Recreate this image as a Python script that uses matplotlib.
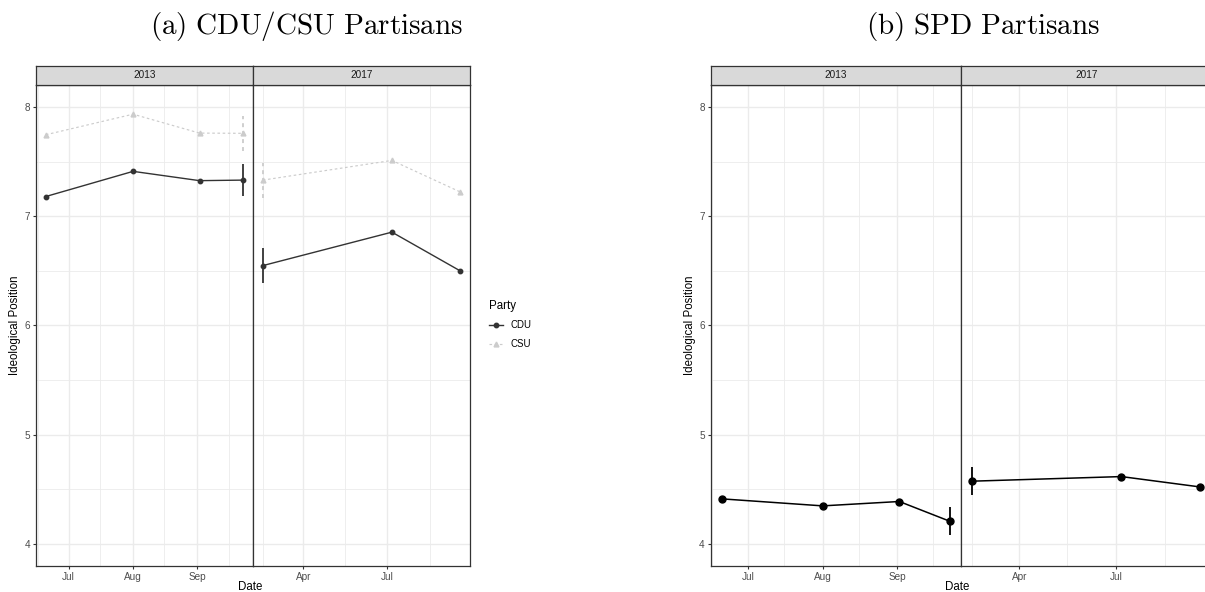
import matplotlib
matplotlib.use("Agg")
import matplotlib.pyplot as plt
import matplotlib.dates as mdates
from matplotlib.lines import Line2D
import pandas as pd

plt.rcParams['font.family'] = ['Liberation Sans', 'DejaVu Sans']
plt.rcParams['mathtext.fontset'] = 'cm'

# survey dates per election year
dates_2013 = pd.to_datetime(['2013-06-20', '2013-08-01', '2013-09-02', '2013-09-23'])
dates_2017 = pd.to_datetime(['2017-02-16', '2017-07-06', '2017-09-18'])

# (a) CDU/CSU partisans
cdu_2013 = [7.18, 7.41, 7.325, 7.33]
cdu_2013_err = [0, 0, 0, 0.145]
csu_2013 = [7.745, 7.933, 7.76, 7.758]
csu_2013_err = [0, 0, 0, 0.16]
cdu_2017 = [6.548, 6.854, 6.50]
cdu_2017_err = [0.157, 0, 0]
csu_2017 = [7.33, 7.51, 7.222]
csu_2017_err = [0.16, 0, 0]

# (b) SPD partisans
spd_2013 = [4.414, 4.35, 4.39, 4.21]
spd_2013_err = [0, 0, 0, 0.13]
spd_2017 = [4.576, 4.618, 4.523]
spd_2017_err = [0.127, 0, 0]

W, H = 1205, 592
fig = plt.figure(figsize=(W / 100, H / 100), dpi=100)


def px_axes(x0, x1, y0, y1):
    return fig.add_axes([x0 / W, 1 - y1 / H, (x1 - x0) / W, (y1 - y0) / H])


def draw_series(ax, dates, vals, err, color, ls, marker, ms, lw):
    ax.plot(dates, vals, color=color, ls=ls, lw=lw, marker=marker, ms=ms,
            zorder=3)
    lo = [v - e for v, e in zip(vals, err)]
    hi = [v + e for v, e in zip(vals, err)]
    ax.vlines(dates, lo, hi, colors=color, linestyles=ls, lw=1.3, zorder=3)


def facet(x0, x1, dates, year, first):
    ax = px_axes(x0, x1, 85, 566)
    strip = px_axes(x0, x1, 66, 85)
    strip.set_facecolor('#D9D9D9')
    strip.set_xticks([])
    strip.set_yticks([])
    for s in strip.spines.values():
        s.set_color('#333333')
        s.set_linewidth(0.9)
    strip.text(0.5, 0.5, year, ha='center', va='center', fontsize=7.2,
               color='#1A1A1A', transform=strip.transAxes)

    span = dates.max() - dates.min()
    ax.set_xlim(dates.min() - span * 0.05, dates.max() + span * 0.05)
    ax.set_ylim(3.8, 8.2)
    if year == '2013':
        ax.xaxis.set_major_locator(mdates.MonthLocator())
        ax.xaxis.set_minor_locator(mdates.MonthLocator(bymonthday=16))
    else:
        ax.xaxis.set_major_locator(mdates.MonthLocator(bymonth=[1, 4, 7, 10]))
        ax.xaxis.set_minor_locator(mdates.MonthLocator(bymonth=[2, 5, 8], bymonthday=16))
    ax.xaxis.set_major_formatter(mdates.DateFormatter('%b'))
    ax.set_yticks([4, 5, 6, 7, 8])
    ax.set_yticks([4.5, 5.5, 6.5, 7.5], minor=True)
    ax.grid(True, which='major', color='#EBEBEB', lw=1.0, zorder=0)
    ax.grid(True, which='minor', color='#EBEBEB', lw=0.6, zorder=0)
    ax.set_axisbelow(True)
    ax.tick_params(which='major', length=2.2, width=0.8, color='#333333',
                   labelcolor='#4D4D4D', labelsize=7.2, pad=2)
    ax.tick_params(which='minor', length=0)
    if not first:
        ax.tick_params(axis='y', left=False, labelleft=False)
    for s in ax.spines.values():
        s.set_color('#333333')
        s.set_linewidth(0.9)
    return ax


# ---- (a) CDU/CSU ----
a1 = facet(36, 253, dates_2013, '2013', True)
a2 = facet(253, 470, dates_2017, '2017', False)
cdu_col, csu_col = '#333333', '#CCCCCC'
csu_ls = (0, (2.2, 2.2))
draw_series(a1, dates_2013, csu_2013, csu_2013_err, csu_col, csu_ls, '^', 3.5, 0.85)
draw_series(a1, dates_2013, cdu_2013, cdu_2013_err, cdu_col, '-', 'o', 3.2, 1.0)
draw_series(a2, dates_2017, csu_2017, csu_2017_err, csu_col, csu_ls, '^', 3.5, 0.85)
draw_series(a2, dates_2017, cdu_2017, cdu_2017_err, cdu_col, '-', 'o', 3.2, 1.0)

fig.text(15 / W, 1 - 325.5 / H, 'Ideological Position', rotation=90,
         ha='center', va='center', fontsize=8.3)
fig.text(250 / W, 1 - 587 / H, 'Date', ha='center', va='center', fontsize=8.3)

handles = [Line2D([], [], color=cdu_col, ls='-', marker='o', ms=3.2, lw=1.0),
           Line2D([], [], color=csu_col, ls=csu_ls, marker='^', ms=3.5, lw=0.85)]
fig.legend(handles, ['CDU', 'CSU'], title='Party', loc='upper left',
           bbox_to_anchor=(480 / W, 1 - 291 / H), frameon=False,
           fontsize=6.9, title_fontsize=8.3, handlelength=1.5,
           handletextpad=0.8, labelspacing=0.9, alignment='left')

# ---- (b) SPD ----
b1 = facet(710.7, 961, dates_2013, '2013', True)
b2 = facet(961, 1211.6, dates_2017, '2017', False)
draw_series(b1, dates_2013, spd_2013, spd_2013_err, 'black', '-', 'o', 5, 1.1)
draw_series(b2, dates_2017, spd_2017, spd_2017_err, 'black', '-', 'o', 5, 1.1)

fig.text(690 / W, 1 - 325.5 / H, 'Ideological Position', rotation=90,
         ha='center', va='center', fontsize=8.3)
fig.text(957 / W, 1 - 587 / H, 'Date', ha='center', va='center', fontsize=8.3)

# subfigure captions
fig.text(150 / W, 1 - 34 / H, r'$\mathrm{(a)\ CDU/CSU\ Partisans}$',
         ha='left', va='baseline', fontsize=21)
fig.text(866 / W, 1 - 34 / H, r'$\mathrm{(b)\ SPD\ Partisans}$',
         ha='left', va='baseline', fontsize=21)

fig.savefig('out.png', dpi=100)
